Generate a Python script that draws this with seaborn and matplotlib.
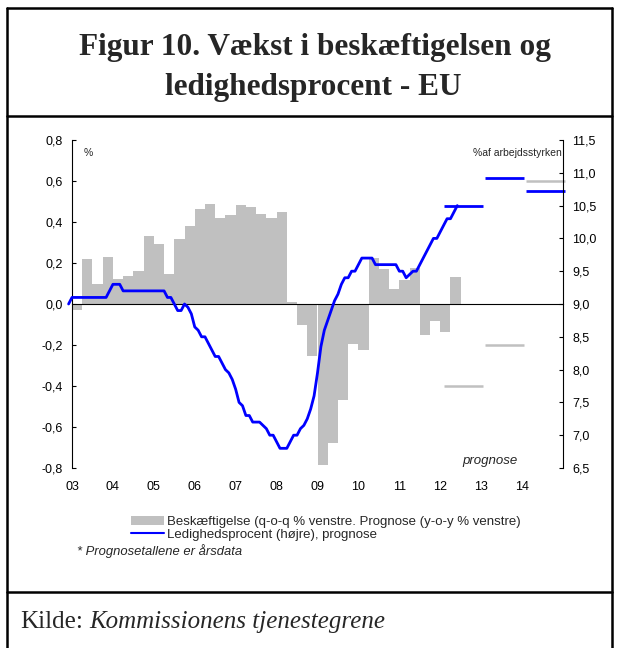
import matplotlib
matplotlib.use('Agg')
import matplotlib.pyplot as plt
import seaborn as sns
import numpy as np
import pandas as pd
from matplotlib.lines import Line2D
from matplotlib.patches import Patch
from matplotlib.ticker import FuncFormatter

# Beskæftigelse, kvartalsvis vækst (q-o-q %), 2003K1 - 2012K2, venstre akse
growth_q = [-0.03, 0.22, 0.10, 0.23,
            0.12, 0.135, 0.16, 0.33,
            0.295, 0.148, 0.316, 0.38,
            0.464, 0.487, 0.419, 0.435,
            0.481, 0.471, 0.44, 0.42,
            0.447, 0.008, -0.104, -0.255,
            -0.784, -0.68, -0.467, -0.193,
            -0.225, 0.222, 0.17, 0.072,
            0.118, 0.176, -0.149, -0.084,
            -0.138, 0.13]
growth_start = 2003

# Ledighedsprocent, månedlig fra dec 2002 til jun 2012, højre akse
unemp_m = [9.0,
           9.1, 9.1, 9.1, 9.1, 9.1, 9.1, 9.1, 9.1, 9.1, 9.1, 9.1, 9.2,
           9.3, 9.3, 9.3, 9.2, 9.2, 9.2, 9.2, 9.2, 9.2, 9.2, 9.2, 9.2,
           9.2, 9.2, 9.2, 9.2, 9.1, 9.1, 9.0, 8.9, 8.9, 9.0, 8.95, 8.85,
           8.65, 8.6, 8.5, 8.5, 8.4, 8.3, 8.2, 8.2, 8.1, 8.0, 7.95, 7.85,
           7.7, 7.5, 7.45, 7.3, 7.3, 7.2, 7.2, 7.2, 7.15, 7.1, 7.0, 7.0,
           6.9, 6.8, 6.8, 6.8, 6.9, 7.0, 7.0, 7.1, 7.15, 7.25, 7.4, 7.6,
           7.95, 8.35, 8.6, 8.75, 8.9, 9.05, 9.15, 9.3, 9.4, 9.4, 9.5, 9.5,
           9.6, 9.7, 9.7, 9.7, 9.7, 9.6, 9.6, 9.6, 9.6, 9.6, 9.6, 9.6,
           9.5, 9.5, 9.4, 9.45, 9.5, 9.5, 9.6, 9.7, 9.8, 9.9, 10.0, 10.0,
           10.1, 10.2, 10.3, 10.3, 10.4, 10.5]
unemp_start = 2002 + 11 / 12

# Prognoser (årsdata)
fc_years = [2012, 2013, 2014]
fc_growth = [-0.4, -0.2, 0.6]
fc_unemp = [10.5, 10.92, 10.72]

year_ticks = list(range(2003, 2015))
year_labels = ['03', '04', '05', '06', '07', '08', '09', '10', '11', '12', '13', '14']

GREY = '#C0C0C0'
BLUE = '#0000FF'

sns.set_theme(style='white')
plt.rcParams['font.family'] = ['Liberation Sans', 'DejaVu Sans']

W, H = 619, 648
fig = plt.figure(figsize=(W / 100, H / 100), dpi=100)

df_q = pd.DataFrame({'x': growth_start + np.arange(len(growth_q)) / 4, 'vaekst': growth_q})
df_m = pd.DataFrame({'x': unemp_start + np.arange(len(unemp_m)) / 12, 'ledighed': unemp_m})
fc_x = np.array(fc_years, dtype=float)

ax = fig.add_axes([72 / W, 1 - 468 / H, 491 / W, 328 / H])
ax.bar(df_q['x'], df_q['vaekst'], width=0.25, align='edge', color=GREY, linewidth=0)
ax.hlines(fc_growth, fc_x + 0.1, fc_x + 1.05, color=GREY, lw=1.8, clip_on=False)
ax.set_xlim(2003, 2015)
ax.set_ylim(-0.8, 0.8)

ax2 = ax.twinx()
sns.lineplot(data=df_m, x='x', y='ledighed', ax=ax2, color=BLUE, lw=2.0, clip_on=False)
ax2.hlines(fc_unemp, fc_x + 0.1, fc_x + 1.05, color=BLUE, lw=2.0, clip_on=False)
ax2.set_ylim(6.5, 11.5)
ax2.set_xlim(2003, 2015)
ax2.set_xlabel('')
ax2.set_ylabel('')
ax.set_ylabel('')

comma = FuncFormatter(lambda v, p: f'{round(v, 1) + 0.0:.1f}'.replace('.', ','))

# venstre akse
ax.set_yticks(np.arange(-0.8, 0.81, 0.2))
ax.yaxis.set_major_formatter(comma)
ax.tick_params(axis='y', direction='in', length=3, width=0.8, labelsize=9, pad=6.5, colors='black')
for s in ['top', 'right']:
    ax.spines[s].set_visible(False)
ax.spines['left'].set_color('black')
ax.spines['left'].set_linewidth(0.8)
ax.spines['bottom'].set_position(('data', 0))
ax.spines['bottom'].set_color('black')
ax.spines['bottom'].set_linewidth(0.8)
ax.set_xticks(range(2003, 2016))
ax.tick_params(axis='x', direction='out', length=3, width=0.8, labelbottom=False, colors='black')

# højre akse
ax2.set_yticks(np.arange(6.5, 11.51, 0.5))
ax2.yaxis.set_major_formatter(comma)
ax2.tick_params(axis='y', direction='in', length=3, width=0.8, labelsize=9, pad=6.5, colors='black')
for s in ['top', 'bottom', 'left']:
    ax2.spines[s].set_visible(False)
ax2.spines['right'].set_color('black')
ax2.spines['right'].set_linewidth(0.8)

# årstal nederst
sec = ax.secondary_xaxis(0)
sec.set_xticks(year_ticks)
sec.set_xticklabels(year_labels)
sec.tick_params(axis='x', length=0, pad=9.5, labelsize=9, colors='black')
sec.spines['bottom'].set_visible(False)

ax.text(0.033, 0.96, '%', transform=ax.transAxes, ha='center', va='center', fontsize=7.5)
ax.text(0.998, 0.96, '%af arbejdsstyrken', transform=ax.transAxes, ha='right', va='center',
        fontsize=7.5)
ax.text(0.851, 0.02, 'prognose', transform=ax.transAxes, ha='center', va='center',
        fontsize=9.5, style='italic')

handles = [Patch(facecolor=GREY, edgecolor='none'), Line2D([], [], color=BLUE, lw=1.5)]
labels = ['Beskæftigelse (q-o-q % venstre. Prognose (y-o-y % venstre)',
          'Ledighedsprocent (højre), prognose']
fig.legend(handles, labels, loc='upper left', bbox_to_anchor=(131 / W, 1 - 516 / H),
           frameon=False, fontsize=9.5, handlelength=2.5, handletextpad=0.23,
           labelspacing=0.02, borderpad=0, borderaxespad=0)
fig.text(77 / W, 1 - 551 / H, '* Prognosetallene er årsdata', style='italic', va='center',
         fontsize=9.4)

# titel og kilde
serif = ['Liberation Serif', 'DejaVu Serif']
fig.text(315 / W, 1 - 47 / H, 'Figur 10. Vækst i beskæftigelsen og', ha='center', va='center',
         family=serif, weight='bold', fontsize=22.5)
fig.text(313 / W, 1 - 88 / H, 'ledighedsprocent - EU', ha='center', va='center',
         family=serif, weight='bold', fontsize=22.5)

t1 = fig.text(20 / W, 1 - 622 / H, 'Kilde:', va='center', family=serif, fontsize=18)
renderer = fig.canvas.get_renderer()
bb = t1.get_window_extent(renderer)
fig.text((bb.x1 + 0.25 * 18 * 100 / 72) / W, 1 - 622 / H, 'Kommissionens tjenestegrene',
         va='center', family=serif, fontsize=18, style='italic')

# rammer
def frame_line(x, y):
    fig.add_artist(Line2D(x, y, transform=fig.transFigure, color='black', lw=1.8))

frame_line([7 / W, 7 / W], [0, 1 - 8 / H])
frame_line([612 / W, 612 / W], [0, 1 - 8 / H])
frame_line([7 / W, 612 / W], [1 - 8 / H, 1 - 8 / H])
frame_line([7 / W, 612 / W], [1 - 116 / H, 1 - 116 / H])
frame_line([7 / W, 612 / W], [1 - 592 / H, 1 - 592 / H])

fig.savefig('out.png', dpi=100)
